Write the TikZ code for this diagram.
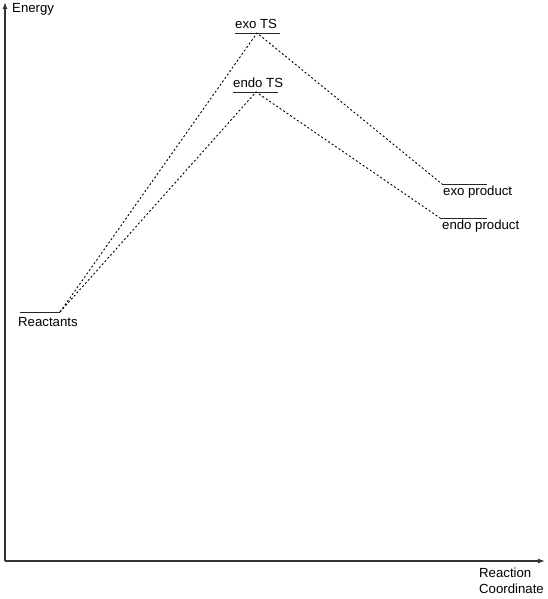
\documentclass[tikz,border=0pt]{standalone}
\usepackage{fontspec}
\setmainfont{Liberation Sans}
\usetikzlibrary{arrows.meta}

\begin{document}
\begin{tikzpicture}[x=1pt,y=-1pt,font=\fontsize{13.2}{15.8}\selectfont]
\tikzstyle{axis}=[draw,line width=1.3pt,black!80,-{Latex[length=7pt,width=5pt]}]
\tikzstyle{lvl}=[draw,line width=0.9pt,black!85]
\tikzstyle{path}=[draw,line width=0.9pt,dash pattern=on 2pt off 2.2pt]
\tikzstyle{lbl}=[inner sep=0pt,anchor=base west]
\useasboundingbox (0,0) rectangle (547,599);

\coordinate (O) at (5,561);
\coordinate (Ytip) at (5,2);
\coordinate (Xtip) at (545,561);
\draw[axis] (O) -- (Ytip);
\draw[axis] (O) -- (Xtip);
\node[lbl](Elab) at (12,13) {Energy};
\node[lbl](Xlab1) at (479,577.7) {Reaction};
\node[lbl](Xlab2) at (479,593.3) {Coordinate};

% energy levels
\coordinate (R1) at (20,312); \coordinate (R2) at (60,312);
\coordinate (XT1) at (235,33); \coordinate (XT2) at (280,33);
\coordinate (NT1) at (233,92); \coordinate (NT2) at (278,92);
\coordinate (XP1) at (442,184); \coordinate (XP2) at (487,184);
\coordinate (NP1) at (440,218); \coordinate (NP2) at (487,218);
\draw[lvl] (R1) -- (R2);
\draw[lvl] (XT1) -- (XT2);
\draw[lvl] (NT1) -- (NT2);
\draw[lvl] (XP1) -- (XP2);
\draw[lvl] (NP1) -- (NP2);

\node[lbl](R) at (18,326) {Reactants};
\node[lbl](XT) at (235,29) {exo TS};
\node[lbl](NT) at (233,87.5) {endo TS};
\node[lbl](XP) at (443,195) {exo product};
\node[lbl](NP) at (442,229.5) {endo product};

% reaction paths
\coordinate (XTm) at (257,33);
\coordinate (NTm) at (256,92);
\draw[path] (R2) -- (XTm) -- (XP1);
\draw[path] (R2) -- (NTm) -- (NP1);
\end{tikzpicture}
\end{document}
